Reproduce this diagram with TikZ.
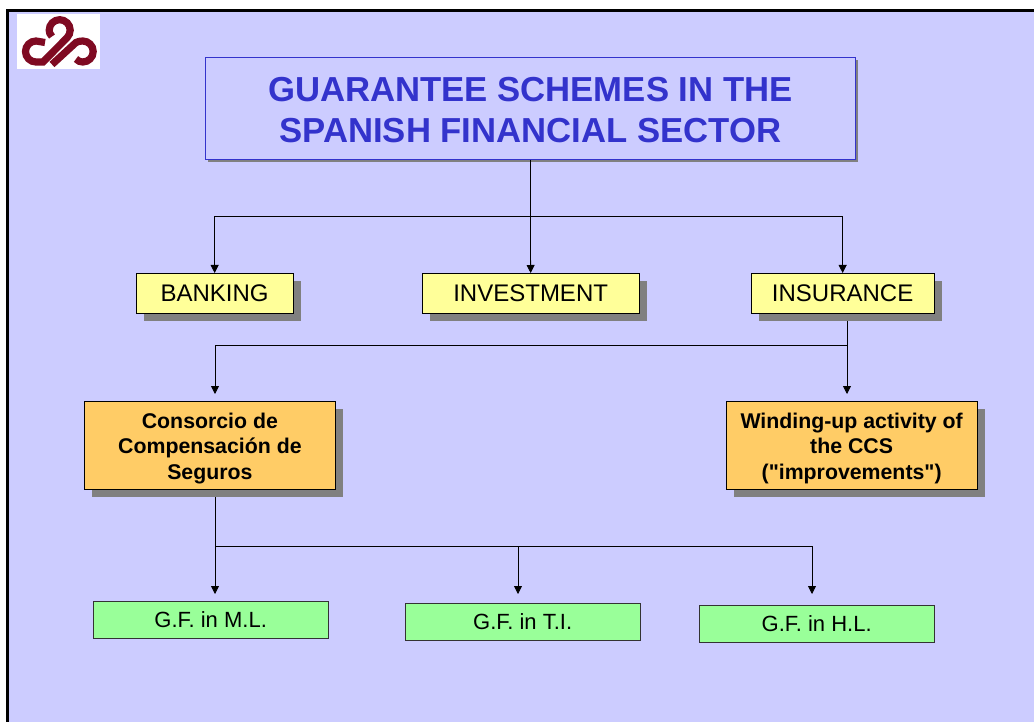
\documentclass[tikz,border=0pt]{standalone}
\usepackage{fontspec}
\setmainfont{Liberation Sans}
\newfontfamily\plainquote{Liberation Sans}
\usetikzlibrary{arrows.meta,shadows}
\definecolor{bgc}{HTML}{CCCCFF}
\definecolor{titleblue}{HTML}{3333CC}
\definecolor{yel}{HTML}{FFFF99}
\definecolor{ora}{HTML}{FFCC66}
\definecolor{grn}{HTML}{99FF99}
\definecolor{logored}{HTML}{7F0A22}
\tikzset{
  basebox/.style={draw=black,line width=0.8pt,align=center,inner sep=0pt,anchor=north west},
  shad/.style={drop shadow={shadow xshift=8pt,shadow yshift=-8pt,fill=black!50,opacity=1}},
  titlebox/.style={basebox,draw=titleblue,fill=bgc,text=titleblue,font=\fontsize{34.7}{40.5}\selectfont\bfseries,
     drop shadow={shadow xshift=3pt,shadow yshift=-3pt,fill=black!50,opacity=1},minimum width=650pt,minimum height=102pt},
  yelbox/.style={basebox,shad,fill=yel,font=\fontsize{24}{28}\selectfont,minimum height=40pt},
  orabox/.style={basebox,shad,fill=ora,font=\fontsize{21.3}{25.5}\selectfont\bfseries,minimum width=251pt,minimum height=88pt},
  grnbox/.style={basebox,draw=black!80,fill=grn,font=\fontsize{22}{25}\selectfont,minimum width=234.5pt,minimum height=37pt},
  conn/.style={line width=0.8pt,draw=black},
  arr/.style={conn,-{Triangle[width=8pt,length=8pt]}},
}
\begin{document}
\begin{tikzpicture}[x=1pt,y=-1pt]
\useasboundingbox (0,0) rectangle (1034,722);
\fill[white] (0,0) rectangle (1034,722);
\fill[bgc] (7.5,10.5) rectangle (1034,722);
\draw[line width=3pt,black] (1040,10.5) -- (7.5,10.5) -- (7.5,730);
% logo
\fill[white] (17,14) rectangle (100,69);
\begin{scope}[shift={(18,13.5)},line width=7.2pt,draw=logored]
\draw (27,29) -- (18,27.5) .. controls (12.2,27.5) and (7.5,32.2) .. (7.5,38) .. controls (7.5,43.8) and (12.2,48.5) .. (18,48.5)
  -- (25,48.5) -- (49,24.3) .. controls (51,22) and (52.2,19.5) .. (52.2,16.7)
  .. controls (52.2,10.9) and (47.5,6.2) .. (41.7,6.2) .. controls (35.9,6.2) and (31.2,10.9) .. (31.2,16.7)
  .. controls (31.2,19) and (32,21) .. (34,23);
\draw (34,51) -- (58,29) .. controls (60,28) and (62,27.5) .. (64.7,27.5)
  .. controls (70.5,27.5) and (75.2,32.2) .. (75.2,38) .. controls (75.2,43.8) and (70.5,48.5) .. (64.7,48.5)
  .. controls (62,48.5) and (60,47.5) .. (58,45.5);
\end{scope}
% nodes
\node[titlebox] (title) at (205,57) {\rule{0pt}{28pt}GUARANTEE SCHEMES IN THE\\SPANISH FINANCIAL SECTOR};
\node[yelbox,minimum width=156.5pt] (banking) at (136,273) {BANKING};
\node[yelbox,minimum width=216.5pt] (invest) at (422,273) {INVESTMENT};
\node[yelbox,minimum width=182.5pt] (insur) at (751,273) {INSURANCE};
\node[orabox] (ccs) at (84,401) {\rule{0pt}{21pt}Consorcio de\\Compensación de\\Seguros};
\node[orabox,minimum width=250.5pt] (wind) at (726,401) {\rule{0pt}{21pt}Winding-up activity of\\the CCS\\{\plainquote\bfseries("improvements")}};
\node[grnbox] (ml) at (93,601) {G.F. in M.L.};
\node[grnbox] (ti) at (405,603) {G.F. in T.I.};
\node[grnbox] (hl) at (699,605) {G.F. in H.L.};
% junctions
\coordinate (j1) at (title.south |- 0,216);
\coordinate (insout) at (847,321);
\coordinate (j2) at (847,345);
\coordinate (ccsend) at (215,394);
\coordinate (windend) at (847,394);
\coordinate (ccsout) at (215,497);
\coordinate (j3) at (215,546);
\coordinate (mlend) at (215,594);
\coordinate (tiend) at (518,594);
\coordinate (hlend) at (812,594);
% connectors
\draw[conn] (title.south) -- (j1);
\draw[arr] (j1) -| (banking.north);
\draw[arr] (j1) -- (invest.north);
\draw[arr] (j1) -| (insur.north);
\draw[conn] (insout) -- (j2);
\draw[arr] (j2) -- (windend);
\draw[arr] (j2) -| (ccsend);
\draw[conn] (ccsout) -- (j3);
\draw[arr] (j3) -- (mlend);
\draw[arr] (j3) -| (tiend);
\draw[arr] (j3) -| (hlend);
\end{tikzpicture}
\end{document}
